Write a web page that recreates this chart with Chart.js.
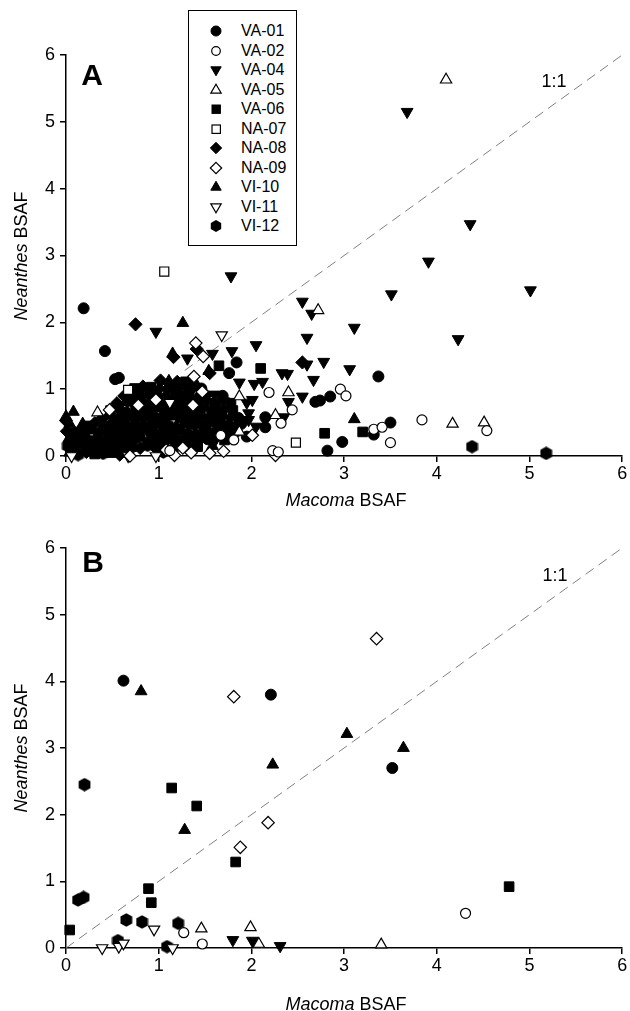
<!DOCTYPE html>
<html><head><meta charset="utf-8">
<script src="https://cdn.jsdelivr.net/npm/chart.js@4.4.1/dist/chart.umd.min.js"></script>
<style>
html,body{margin:0;padding:0;background:#fff;width:630px;height:1011px;overflow:hidden;position:relative;font-family:"Liberation Sans",Arial,sans-serif;}
canvas{position:absolute;left:0;}
#cA{top:0}
#cB{top:520px}
.lbl{position:absolute;color:#000;white-space:nowrap;line-height:1;transform:translate(-50%,-50%);}
.panel{font-weight:bold;font-size:30px;}
.one{font-size:18px;}
.ytitle{font-size:18px;transform:translate(-50%,-50%) rotate(-90deg);}
.xtitle{font-size:18px;}
#legend{position:absolute;left:188px;top:10px;width:107px;height:234px;border:1.5px solid #000;background:#fff;}
.row{position:absolute;left:0;width:100%;height:18px;}
.row svg{position:absolute;left:20px;top:2px;}
.row span{position:absolute;left:52px;top:0;font-size:16px;line-height:18px;color:#000;}
</style></head>
<body>
<canvas id="cA" width="630" height="520"></canvas>
<canvas id="cB" width="630" height="491"></canvas>
<div id="legend"></div>
<div class="lbl panel" style="left:92px;top:75px">A</div>
<div class="lbl panel" style="left:93px;top:562px">B</div>
<div class="lbl one" style="left:554px;top:81px">1:1</div>
<div class="lbl one" style="left:555px;top:575px">1:1</div>
<div class="lbl ytitle" style="left:21px;top:256px"><i>Neanthes</i> BSAF</div>
<div class="lbl ytitle" style="left:21px;top:748px"><i>Neanthes</i> BSAF</div>
<div class="lbl xtitle" style="left:346px;top:500px"><i>Macoma</i> BSAF</div>
<div class="lbl xtitle" style="left:346px;top:1004px"><i>Macoma</i> BSAF</div>
<script>
// ---------- DATA ----------
const seriesNames = ['VA-01','VA-02','VA-04','VA-05','VA-06','NA-07','NA-08','NA-09','VI-10','VI-11','VI-12'];
const tickValues = [0,1,2,3,4,5,6];
const oneToOneA = [[1.28,1.28],[6,6]];
const oneToOneB = [[0,0],[6,6]];

// Panel A
const aVA01 = [[0.19,2.21],[0.42,1.57],[0.53,1.15],[0.57,1.17],[1.84,1.40],[1.76,1.24],[3.37,1.19],[2.85,0.89],[2.69,0.81],[2.74,0.83],[3.50,0.50],[3.32,0.32],[2.98,0.21],[2.82,0.08],[2.15,0.58],[2.15,0.43],[1.95,0.29],[0.17,0.39],
 [0.36,0.15],[0.97,0.13],[1.33,0.12],[0.55,0.24],[1.08,0.27],[1.53,0.25],[0.61,0.35],[1.23,0.38],[1.67,0.34],[1.84,0.37],[0.75,0.46],[1.37,0.48],[1.72,0.45],[1.89,0.48],[0.97,0.57],[1.41,0.56],[1.68,0.60],[1.86,0.57],[1.27,0.69],[1.63,0.67],[1.17,0.80],[1.61,0.78],[1.24,0.91],[1.69,0.90],[1.46,1.01],
 [0.31,0.20],[0.85,0.42],[1.30,0.30],[1.12,0.63]];
const aVA02 = [[2.96,1.00],[3.02,0.90],[2.19,0.95],[2.44,0.69],[2.32,0.49],[1.81,0.24],[2.23,0.08],[2.29,0.06],[3.32,0.40],[3.41,0.43],[3.84,0.54],[4.54,0.38],[3.50,0.20],[1.67,0.31],[1.12,0.08]];
const aVA04 = [[3.68,5.15],[4.36,3.47],[3.91,2.91],[5.01,2.48],[3.51,2.42],[4.23,1.75],[1.78,2.69],[0.97,1.86],[2.55,2.31],[2.65,2.13],[3.11,1.92],[2.60,1.77],[2.05,1.66],[1.79,1.57],[1.58,1.53],[1.31,1.46],[2.78,1.41],[3.06,1.30],[2.60,1.37],[2.33,1.24],[2.39,1.23],[2.67,1.14],[2.12,1.11],[2.03,1.08],[1.87,1.10],[2.55,0.89],[2.01,0.84],[1.95,0.80],[2.40,0.81],[1.97,0.64],[2.35,0.58],[1.97,0.54],[2.05,0.44],
 [1.62,0.26],[1.58,0.36],[1.55,0.49],[1.81,0.46],[1.50,0.58],[1.77,0.56],[1.54,0.70],[1.72,0.71],[1.52,0.81],[1.70,0.82],[1.60,0.92]];
const aVA05 = [[4.10,5.63],[2.72,2.18],[4.17,0.48],[4.51,0.50],[2.40,0.95],[2.26,0.61],[0.34,0.65],[1.87,0.36],[1.87,0.89]];
const aVA06 = [[1.65,1.35],[2.10,1.31],[2.79,0.34],[3.20,0.36],
 [0.31,0.03],[0.67,0.05],[0.27,0.12],[0.71,0.14],[1.06,0.16],[1.42,0.14],[0.29,0.23],[0.64,0.26],[0.99,0.25],[1.35,0.27],[1.71,0.24],[0.35,0.34],[0.79,0.37],[1.14,0.35],[1.49,0.38],[1.76,0.36],[0.22,0.45],[0.58,0.48],[0.93,0.46],[1.28,0.49],[1.63,0.47],[0.54,0.56],[0.89,0.60],[1.24,0.57],[1.59,0.59],[0.48,0.68],[0.75,0.70],[1.10,0.67],[1.45,0.71],[1.80,0.68],[0.73,0.82],[0.99,0.79],[1.34,0.80],[1.78,0.79],[0.72,0.89],[0.98,0.91],[1.33,0.92],[0.74,1.01],[0.92,1.03],[1.19,1.02],[1.29,1.11],
 [0.50,0.20],[0.95,0.53],[1.20,0.22],[0.68,0.40]];
const aNA07 = [[1.06,2.76],[2.48,0.20],[0.67,0.99]];
const aNA08 = [[0.75,1.97],[1.16,1.48],[1.41,1.60],[2.55,1.40],[1.55,1.24],[0.00,0.53],
 [0.22,0.06],[0.58,0.02],[0.19,0.16],[0.53,0.13],[0.80,0.12],[1.24,0.17],[0.12,0.24],[0.47,0.27],[0.90,0.23],[1.44,0.26],[0.01,0.37],[0.44,0.35],[0.88,0.38],[1.32,0.34],[0.31,0.49],[0.66,0.45],[1.02,0.48],[1.46,0.46],[0.38,0.55],[0.71,0.59],[1.06,0.56],[1.33,0.60],[0.57,0.71],[0.92,0.68],[1.19,0.70],[0.55,0.79],[0.82,0.81],[1.08,0.78],[1.43,0.82],[0.63,0.90],[0.89,0.92],[1.16,0.89],[1.51,0.91],[0.83,1.04],[1.10,1.01],[1.37,1.03],[1.02,1.13],[1.20,1.11],
 [0.75,0.62],[1.25,0.64],[0.40,0.13]];
const aNA09 = [[1.40,1.69],[1.48,1.49],[1.38,1.19],[1.47,0.96],[1.37,0.76],[0.47,0.69],[0.78,0.76],[0.97,0.84],[2.26,0.01],[2.01,0.31],[1.08,0.09],[1.17,0.01],[1.26,0.12],[1.35,0.05],[1.55,0.04],[1.70,0.07],[0.69,0.00]];
const aVI10 = [[1.26,1.99],[3.11,0.55],[0.08,0.66],[0.00,0.59],[1.15,1.53],[1.54,1.27],
 [0.04,0.05],[0.49,0.03],[0.10,0.13],[0.62,0.15],[1.15,0.12],[0.03,0.26],[0.38,0.24],[0.82,0.27],[1.26,0.23],[0.27,0.38],[0.70,0.36],[1.05,0.37],[1.40,0.35],[0.04,0.48],[0.40,0.46],[0.84,0.49],[1.19,0.45],[0.45,0.60],[0.80,0.57],[1.15,0.59],[0.66,0.67],[1.01,0.71],[1.36,0.68],[0.64,0.80],[0.90,0.78],[1.26,0.81],[0.80,0.92],[1.07,0.90],[1.42,0.89],[1.01,1.02],[1.28,1.04],[1.11,1.12],[1.38,1.13],
 [1.58,0.15],[0.18,0.48],[1.04,0.62]];
const aVI11 = [[1.68,1.81],[1.12,0.80],[0.06,0.00],[0.67,0.00],[0.97,0.00]];
const aVI12 = [[4.38,0.14],[5.18,0.04],
 [0.13,0.02],[0.40,0.04],[0.02,0.15],[0.45,0.12],[0.88,0.16],[0.20,0.27],[0.73,0.25],[1.17,0.24],[0.09,0.35],[0.53,0.37],[0.96,0.34],[0.49,0.47],[1.10,0.46],[0.62,0.58],[0.83,0.69],
 [0.28,0.07],[1.05,0.06],[0.60,0.09]];

// Panel B
const bVA01 = [[0.62,4.01],[2.21,3.80],[3.52,2.70]];
const bVA02 = [[1.27,0.23],[1.47,0.06],[4.31,0.52]];
const bVA04 = [[1.80,0.12],[2.01,0.11],[2.31,0.03]];
const bVA05 = [[1.46,0.29],[1.99,0.31],[2.08,0.06],[3.40,0.05]];
const bVA06 = [[0.04,0.27],[0.89,0.89],[0.92,0.68],[1.14,2.40],[1.41,2.13],[1.83,1.29],[4.78,0.92]];
const bNA07 = [];
const bNA08 = [];
const bNA09 = [[3.35,4.64],[1.81,3.77],[2.18,1.88],[1.88,1.51]];
const bVI10 = [[0.81,3.85],[3.03,3.21],[3.64,3.00],[2.23,2.75],[1.28,1.77]];
const bVI11 = [[0.39,0.00],[0.57,0.02],[0.62,0.07],[0.95,0.28],[1.15,0.00]];
const bVI12 = [[0.13,0.72],[0.19,0.76],[0.20,2.45],[0.56,0.11],[0.65,0.42],[0.82,0.39],[1.09,0.02],[1.21,0.37]];

const panelA = [aVA01,aVA02,aVA04,aVA05,aVA06,aNA07,aNA08,aNA09,aVI10,aVI11,aVI12];
const panelB = [bVA01,bVA02,bVA04,bVA05,bVA06,bNA07,bNA08,bNA09,bVI10,bVI11,bVI12];

// ---------- STYLES ----------
const FONT = "'Liberation Sans', Arial, sans-serif";
function hexImage(){
  const c=document.createElement('canvas'); c.width=13; c.height=14;
  const g=c.getContext('2d'); const cx=6.5, cy=7, r=6.8;
  g.beginPath();
  for(let i=0;i<6;i++){const a=-Math.PI/2+i*Math.PI/3; const px=cx+r*Math.cos(a), py=cy+r*Math.sin(a); if(i===0)g.moveTo(px,py); else g.lineTo(px,py);}
  g.closePath(); g.fillStyle='#000'; g.fill();
  return c;
}
const hexImg = hexImage();
const styles = [
 {ps:'circle', rot:0, r:5.5, fill:'#000', bw:1, open:false},
 {ps:'circle', rot:0, r:5, fill:'#fff', bw:1.2, open:true},
 {ps:'triangle', rot:180, r:6.8, fill:'#000', bw:1, open:false},
 {ps:'triangle', rot:0, r:6.5, fill:'#fff', bw:1.2, open:true},
 {ps:'rect', rot:0, r:6.8, fill:'#000', bw:1, open:false},
 {ps:'rect', rot:0, r:6.4, fill:'#fff', bw:1.2, open:true},
 {ps:'rectRot', rot:0, r:6.6, fill:'#000', bw:1, open:false},
 {ps:'rectRot', rot:0, r:6.2, fill:'#fff', bw:1.2, open:true},
 {ps:'triangle', rot:0, r:6.8, fill:'#000', bw:1, open:false},
 {ps:'triangle', rot:180, r:6.5, fill:'#fff', bw:1.2, open:true},
 {ps:hexImg, rot:0, r:6.5, fill:'#000', bw:1, open:false}
];

function toXY(arr){return arr.map(p=>({x:p[0],y:p[1]}));}

function buildDatasets(panel, line){
  const ds = panel.map((arr,i)=>{
    const s=styles[i];
    return {label:seriesNames[i], data:toXY(arr), pointStyle:s.ps, pointRotation:s.rot,
      pointRadius:s.r, pointHoverRadius:s.r, pointBackgroundColor:s.fill, pointBorderColor:'#000',
      pointBorderWidth:s.bw, showLine:false, clip:false, order: s.open?1:2};
  });
  ds.push({type:'line', label:'1:1', data:toXY(line), showLine:true, pointRadius:0, borderColor:'#808080',
    borderWidth:1, borderDash:[10,6], fill:false, clip:false, order:3});
  return ds;
}

function makeChart(id, panel, line, padTop, xH){
  const axisCommon = {
    type:'linear', min:0, max:6,
    ticks:{stepSize:1, color:'#000', font:{family:FONT,size:18}, autoSkip:false, maxRotation:0,
      callback:(v)=> tickValues.includes(v)? String(v) : ''},
    grid:{drawOnChartArea:false, drawTicks:true, tickLength:6, color:'#000', lineWidth:1.5},
    border:{display:true, color:'#000', width:1.5}
  };
  return new Chart(document.getElementById(id), {
    type:'scatter',
    data:{datasets:buildDatasets(panel,line)},
    options:{
      responsive:false, animation:false, devicePixelRatio:1, events:[],
      layout:{padding:{top:padTop, right:5, left:0, bottom:0}},
      plugins:{legend:{display:false}, tooltip:{enabled:false}},
      scales:{
        x:Object.assign({}, axisCommon, {ticks:Object.assign({},axisCommon.ticks,{padding:1}), afterFit(s){s.height=xH;}}),
        y:Object.assign({}, axisCommon, {ticks:Object.assign({},axisCommon.ticks,{padding:5}), afterFit(s){s.width=66;}})
      }
    }
  });
}
makeChart('cA', panelA, oneToOneA, 55, 64);
makeChart('cB', panelB, oneToOneB, 28, 63);

// ---------- LEGEND (HTML, real text) ----------
function markerSVG(i){
  const s=styles[i]; const f=s.fill; const sw=s.open?1.2:1;
  let shape='';
  switch(i){
    case 0: shape=`<circle cx="7" cy="7" r="5" fill="${f}" stroke="#000" stroke-width="${sw}"/>`; break;
    case 1: shape=`<circle cx="7" cy="7" r="4.3" fill="${f}" stroke="#000" stroke-width="${sw}"/>`; break;
    case 2: case 9: shape=`<polygon points="1.8,3.8 12.2,3.8 7,12.8" fill="${f}" stroke="#000" stroke-width="${sw}"/>`; break;
    case 3: case 8: shape=`<polygon points="7,1.2 12.2,10.2 1.8,10.2" fill="${f}" stroke="#000" stroke-width="${sw}"/>`; break;
    case 4: case 5: shape=`<rect x="3" y="3" width="8.4" height="8.4" fill="${f}" stroke="#000" stroke-width="${sw}"/>`; break;
    case 6: case 7: shape=`<polygon points="7,1.3 12.7,7 7,12.7 1.3,7" fill="${f}" stroke="#000" stroke-width="${sw}"/>`; break;
    case 10: shape=`<polygon points="7,1 12.2,4 12.2,10 7,13 1.8,10 1.8,4" fill="#000"/>`; break;
  }
  return `<svg width="14" height="14" viewBox="0 0 14 14">${shape}</svg>`;
}
const leg=document.getElementById('legend');
seriesNames.forEach((n,i)=>{
  const row=document.createElement('div'); row.className='row';
  row.style.top=(11.2+i*19.5)+'px';
  row.innerHTML=markerSVG(i)+`<span>${n}</span>`;
  leg.appendChild(row);
});
</script>
</body></html>
